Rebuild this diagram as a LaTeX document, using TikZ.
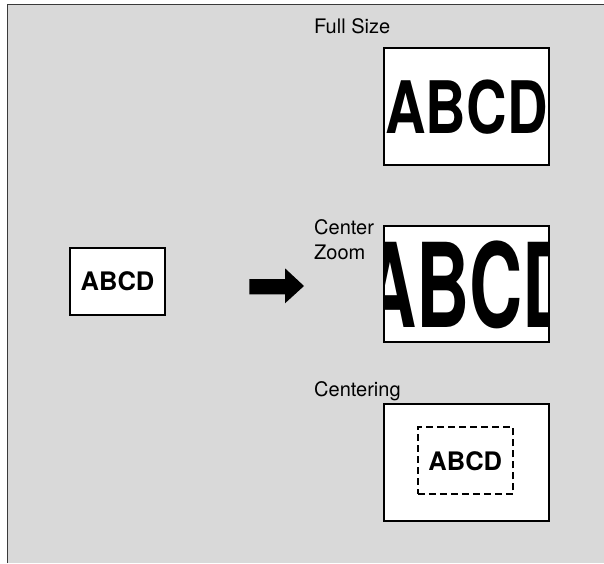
\documentclass[tikz,border=0pt]{standalone}
\usepackage{fontspec}
\usepackage{graphicx}
\setmainfont{TeX Gyre Heros}
\usetikzlibrary{positioning,calc}
\definecolor{Panel}{HTML}{D9D9D9}
\definecolor{Frame}{HTML}{3A3A3A}
\definecolor{Ink}{HTML}{000000}

\begin{document}
\begin{tikzpicture}[x=1pt,y=-1pt,text=Ink,caption/.style={anchor=base west,inner sep=0pt,font=\fontsize{20}{24}\selectfont},page/.style={draw=Ink,fill=white,line width=2pt,minimum width=165pt,minimum height=116.5pt,inner sep=0pt},sheet/.style={draw=Ink,fill=white,line width=2pt,minimum width=95pt,minimum height=67pt,inner sep=0pt,font=\fontsize{25.5}{26}\selectfont\bfseries},bigtext/.style={inner sep=0pt,font=\fontsize{72.4}{73}\selectfont\bfseries}]
\useasboundingbox (0,0) rectangle (604,563);
\fill[Panel] (7.5,4.3) rectangle (604,563);
\draw[Frame,line width=1.6pt] (7.5,563) -- (7.5,4.3) -- (604,4.3);
% original
\node[sheet] (original) at (117.5,281) {ABCD};
\fill[Ink] (249.3,279) -- (285,279) -- (285,268.3) -- (304,286) -- (285,303.3) -- (285,294.3) -- (249.3,294.3) -- cycle;
% full size
\node[caption] (fulllabel) at (314,33.3) {Full Size};
\node[page] (fullbox) at (466.5,106.7) {};
\node[bigtext] (fulltext) at (fullbox.center) {\scalebox{0.775}[1]{ABCD}};
% center zoom
\node[caption] (zoomlabel) at (314,234.5) {Center};
\node[caption] (zoomlabelb) at (314,259.5) {Zoom};
\node[page] (zoombox) at (466.5,283.8) {};
\begin{scope}
\clip ($(zoombox.north west)+(2,2)$) rectangle ($(zoombox.south east)+(-2,-2)$);
\node[bigtext] (zoomtext) at (469.5,284.5) {\scalebox{1.018}[1.615]{ABCD}};
\end{scope}
% centering
\node[caption] (centerlabel) at (314,396) {Centering};
\node[page] (centerbox) at (466.5,462.5) {};
\node[sheet,line width=2pt,dash pattern=on 7pt off 4pt] (centertext) at (465.3,460.8) {ABCD};
\end{tikzpicture}
\end{document}
